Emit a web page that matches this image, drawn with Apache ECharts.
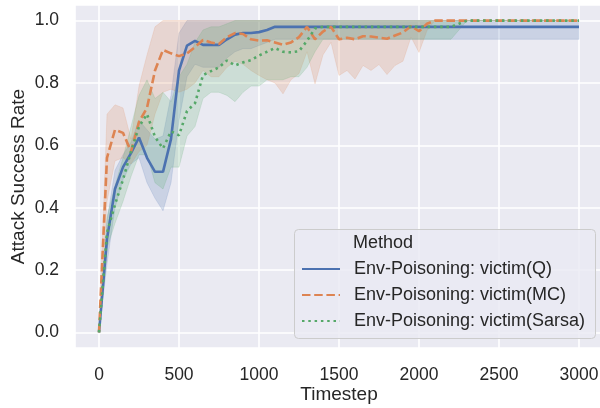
<!DOCTYPE html>
<html>
<head>
<meta charset="utf-8">
<script src="https://cdn.jsdelivr.net/npm/echarts@6/dist/echarts.min.js"></script>
<style>
html,body{margin:0;padding:0;background:#ffffff;}
#chart{width:600px;height:408px;}
</style>
</head>
<body>
<div id="chart"></div>
<script>
var timesteps = [0,50,100,150,200,250,300,350,400,450,500,550,600,650,700,750,800,850,900,950,
  1000,1050,1100,1150,1200,1250,1300,1350,1400,1450,1500,1550,1600,1650,1700,1750,1800,1850,1900,1950,
  2000,2050,2100,2150,2200,2250,2300,2350,2400,2450,2500,2550,2600,2650,2700,2750,2800,2850,2900,2950,3000];

var seriesNames = ['Env-Poisoning: victim(Q)', 'Env-Poisoning: victim(MC)', 'Env-Poisoning: victim(Sarsa)'];

var qMean = [0,0.30,0.46,0.53,0.575,0.625,0.56,0.515,0.515,0.62,0.84,0.92,0.935,0.922,0.922,0.922,0.94,0.955,0.96,0.96,
  0.963,0.97,0.98,0.98,0.98,0.98,0.98,0.98,0.98,0.98,0.98,0.98,0.98,0.98,0.98,0.98,0.98,0.98,0.98,0.98,
  0.98,0.98,0.98,0.98,0.98,0.98,0.98,0.98,0.98,0.98,0.98,0.98,0.98,0.98,0.98,0.98,0.98,0.98,0.98,0.98,0.98];
var qLow = [0,0.22,0.40,0.49,0.54,0.56,0.48,0.43,0.39,0.48,0.68,0.82,0.86,0.85,0.85,0.85,0.88,0.90,0.91,0.91,
  0.92,0.93,0.94,0.94,0.94,0.94,0.94,0.94,0.94,0.94,0.94,0.94,0.94,0.94,0.94,0.94,0.94,0.94,0.94,0.94,
  0.94,0.94,0.94,0.94,0.94,0.94,0.94,0.94,0.94,0.94,0.94,0.94,0.94,0.94,0.94,0.94,0.94,0.94,0.94,0.94,0.94];
var qHigh = [0,0.36,0.52,0.57,0.61,0.68,0.65,0.62,0.63,0.76,0.96,1,1,1,1,1,1,1,1,1,
  1,1,1,1,1,1,1,1,1,1,1,1,1,1,1,1,1,1,1,1,
  1,1,1,1,1,1,1,1,1,1,1,1,1,1,1,1,1,1,1,1,1];

var mcMean = [0,0.56,0.65,0.64,0.58,0.675,0.72,0.84,0.906,0.895,0.886,0.895,0.915,0.938,0.93,0.925,0.947,0.96,0.957,0.94,
  0.936,0.937,0.93,0.922,0.93,0.947,0.98,0.94,0.965,0.98,0.94,0.945,0.94,0.95,0.949,0.945,0.942,0.952,0.962,0.982,
  0.966,0.99,1,1,1,1,1,1,1,1,1,1,1,1,1,1,1,1,1,1,1];
var mcLow = [0,0.42,0.55,0.56,0.54,0.58,0.60,0.70,0.77,0.78,0.77,0.78,0.80,0.84,0.82,0.82,0.85,0.87,0.86,0.84,
  0.824,0.81,0.80,0.765,0.81,0.83,0.90,0.797,0.89,0.93,0.824,0.84,0.813,0.856,0.84,0.859,0.827,0.856,0.87,0.947,
  0.898,0.968,1,1,1,1,1,1,1,1,1,1,1,1,1,1,1,1,1,1,1];
var mcHigh = [0,0.70,0.73,0.72,0.62,0.79,0.89,0.98,1,1,1,1,1,1,1,1,1,1,1,1,
  1,1,1,1,1,1,1,1,1,1,1,1,1,1,1,1,1,1,1,1,
  1,1,1,1,1,1,1,1,1,1,1,1,1,1,1,1,1,1,1,1,1];

var sarsaMean = [0,0.32,0.41,0.49,0.58,0.66,0.70,0.627,0.59,0.645,0.632,0.71,0.735,0.825,0.838,0.85,0.872,0.856,0.866,0.873,
  0.888,0.90,0.912,0.90,0.898,0.902,0.935,0.975,0.98,0.98,0.98,0.98,0.98,0.98,0.98,0.98,0.98,0.98,0.98,0.98,
  0.98,0.98,0.98,0.98,0.98,0.99,1,1,1,1,1,1,1,1,1,1,1,1,1,1,1];
var sarsaLow = [0,0.27,0.35,0.42,0.50,0.57,0.57,0.48,0.46,0.53,0.53,0.63,0.66,0.75,0.77,0.77,0.76,0.74,0.77,0.79,
  0.79,0.81,0.81,0.81,0.82,0.82,0.85,0.90,0.94,0.94,0.94,0.94,0.94,0.94,0.94,0.94,0.94,0.94,0.94,0.94,
  0.94,0.94,0.94,0.94,0.94,0.97,1,1,1,1,1,1,1,1,1,1,1,1,1,1,1];
var sarsaHigh = [0,0.37,0.47,0.56,0.66,0.76,0.81,0.75,0.77,0.74,0.82,0.86,0.93,0.97,0.98,0.98,0.99,1,1,1,
  1,1,1,1,1,1,1,1,1,1,1,1,1,1,1,1,1,1,1,1,
  1,1,1,1,1,1,1,1,1,1,1,1,1,1,1,1,1,1,1,1,1];

var colors = ['#4C72B0', '#DD8452', '#55A868'];
var FONT = '"Liberation Sans", Arial, sans-serif';
var TEXT = '#262626';

function pairs(vals) { return timesteps.map(function (t, i) { return [t, vals[i]]; }); }

function bandSeries(id, lo, hi, color) {
  return {
    type: 'custom', name: id + '_band', silent: true, z: 1, clip: true,
    data: timesteps.map(function (t, i) { return [t, lo[i], hi[i]]; }),
    encode: { x: 0, y: [1, 2] },
    renderItem: function (params, api) {
      if (params.dataIndex !== 0) return null;
      var pts = [];
      for (var i = 0; i < timesteps.length; i++) pts.push(api.coord([timesteps[i], hi[i]]));
      for (var j = timesteps.length - 1; j >= 0; j--) pts.push(api.coord([timesteps[j], lo[j]]));
      return {
        type: 'polygon', shape: { points: pts },
        style: { fill: color, opacity: 0.2, stroke: color, lineWidth: 0.8 }
      };
    }
  };
}

var series = [
  bandSeries('q', qLow, qHigh, colors[0]),
  bandSeries('mc', mcLow, mcHigh, colors[1]),
  bandSeries('sarsa', sarsaLow, sarsaHigh, colors[2]),
  { type: 'line', name: seriesNames[0], data: pairs(qMean), symbol: 'none', z: 3,
    itemStyle: { color: colors[0] }, lineStyle: { color: colors[0], width: 2.6, type: 'solid' } },
  { type: 'line', name: seriesNames[1], data: pairs(mcMean), symbol: 'none', z: 3,
    itemStyle: { color: colors[1] }, lineStyle: { color: colors[1], width: 2.6, type: [8.5, 3.7] } },
  { type: 'line', name: seriesNames[2], data: pairs(sarsaMean), symbol: 'none', z: 3,
    itemStyle: { color: colors[2] }, lineStyle: { color: colors[2], width: 2.6, type: [2.5, 3.8] } }
];

var chart = echarts.init(document.getElementById('chart'), null, { renderer: 'canvas' });
chart.setOption({
  animation: false,
  backgroundColor: '#ffffff',
  textStyle: { fontFamily: FONT, color: TEXT },
  grid: { left: 75, top: 5, width: 528, height: 343, show: true, backgroundColor: '#EAEAF2', borderWidth: 0,
    containLabel: false, outerBoundsMode: 'none' },
  xAxis: {
    type: 'value', min: -150, max: 3150, splitNumber: 6,
    name: 'Timestep', nameLocation: 'middle', nameGap: 37, nameMoveOverlap: false,
    nameTextStyle: { fontSize: 19, color: TEXT, fontFamily: FONT },
    axisLine: { show: false }, axisTick: { show: false },
    axisLabel: { fontSize: 17.5, color: TEXT, fontFamily: FONT, margin: 18, showMinLabel: false, showMaxLabel: false,
      formatter: function (v) { return String(v); } },
    splitLine: { show: true, lineStyle: { color: '#ffffff', width: 1.6 } }
  },
  yAxis: {
    type: 'value', min: -0.05, max: 1.05,
    name: 'Attack Success Rate', nameLocation: 'middle', nameGap: 47, nameMoveOverlap: false,
    nameTextStyle: { fontSize: 19, color: TEXT, fontFamily: FONT },
    axisLine: { show: false }, axisTick: { show: false },
    axisLabel: { fontSize: 17.5, color: TEXT, fontFamily: FONT, margin: 16, showMinLabel: false, showMaxLabel: false,
      formatter: function (v) { return v.toFixed(1); } },
    splitLine: { show: true, lineStyle: { color: '#ffffff', width: 1.6 } }
  },
  legend: {
    data: seriesNames, orient: 'vertical', left: 301, top: 259, padding: 0,
    itemWidth: 38, itemHeight: 20, itemGap: 6, z: 10,
    itemStyle: { opacity: 0 },
    textStyle: { fontSize: 18, color: TEXT, fontFamily: FONT, lineHeight: 20, padding: [0, 0, 0, 9] },
    selectedMode: false
  },
  graphic: [
    { type: 'rect', z: 8, shape: { x: 294.5, y: 229.5, width: 301, height: 109, r: 4 },
      style: { fill: 'rgba(234,234,242,0.8)', stroke: '#cccccc', lineWidth: 1 } },
    { type: 'text', z: 11, x: 353, y: 243,
      style: { text: 'Method', fontSize: 18, fontFamily: FONT, fill: TEXT, textVerticalAlign: 'middle', verticalAlign: 'middle' } }
  ],
  series: series
});
</script>
</body>
</html>
